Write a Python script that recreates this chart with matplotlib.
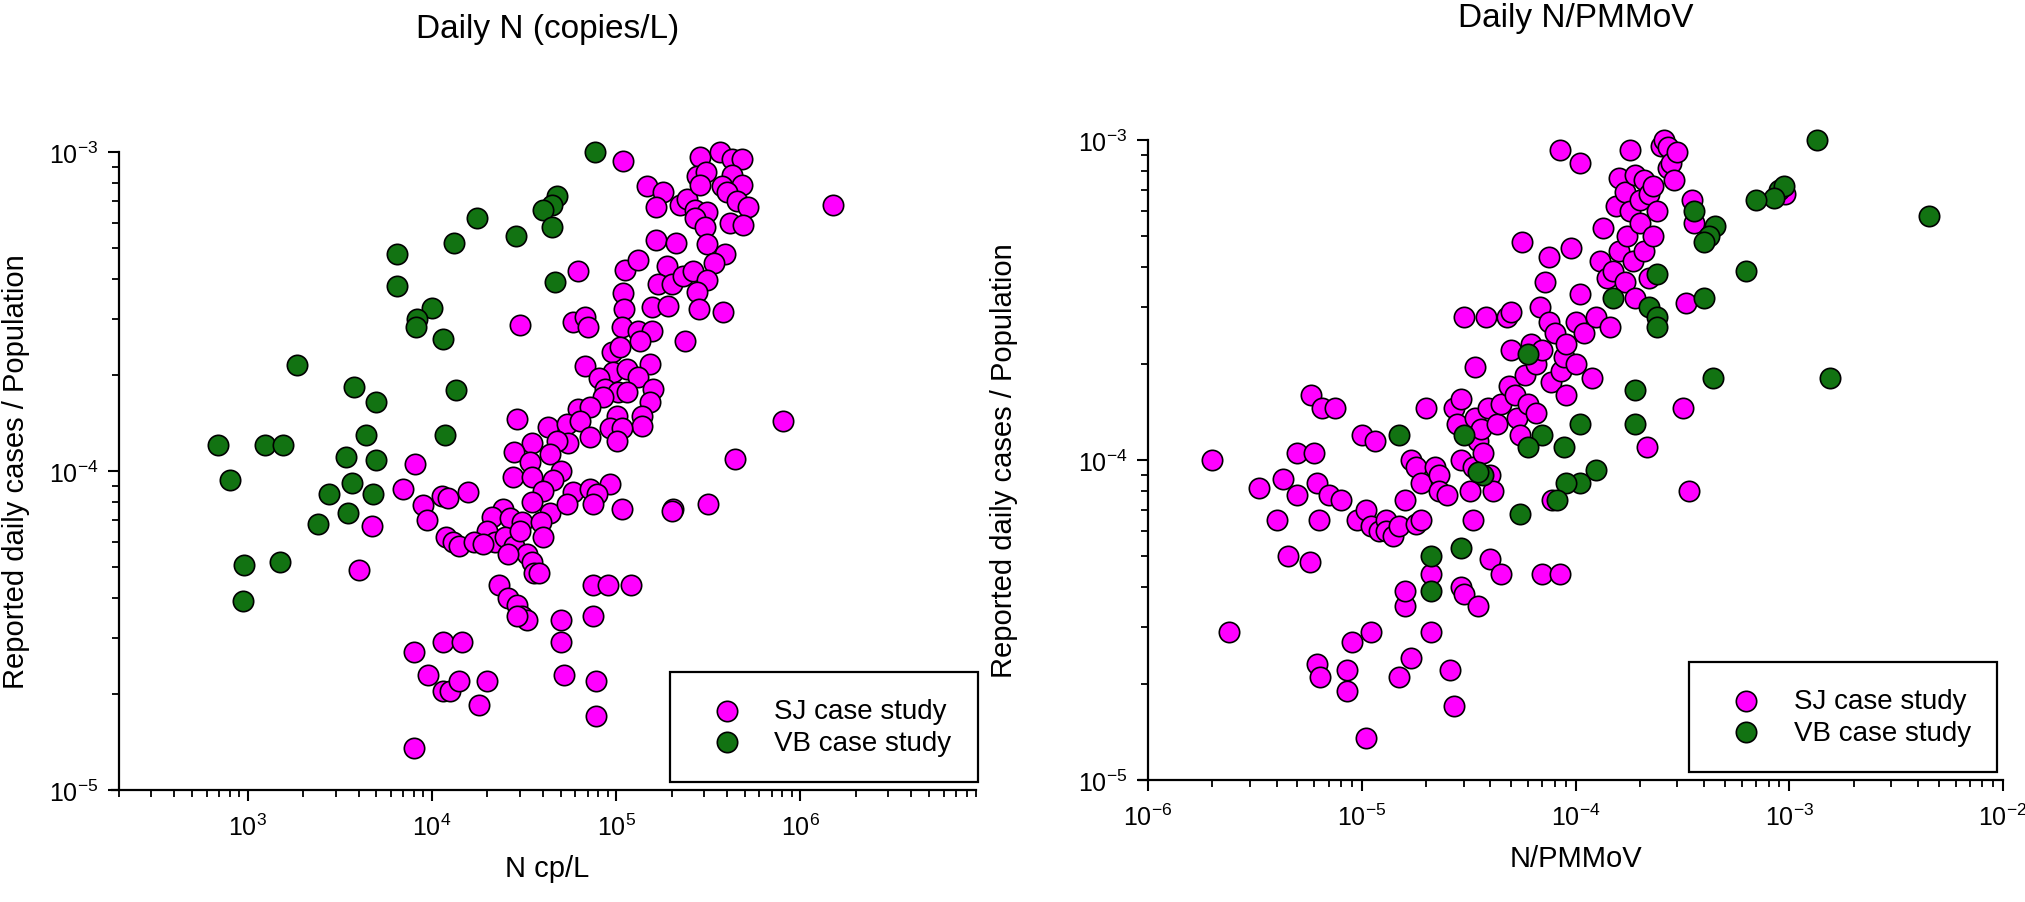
import matplotlib.pyplot as plt
from matplotlib.ticker import LogLocator, NullFormatter

plt.rcParams['font.family'] = ['Liberation Sans', 'DejaVu Sans']
plt.rcParams['mathtext.fontset'] = 'custom'
plt.rcParams['mathtext.rm'] = 'Liberation Sans'
plt.rcParams['mathtext.default'] = 'regular'
plt.rcParams['axes.unicode_minus'] = False

# ---- left panel: N copies/L vs cases / population ----
sj_n = [1.09e5, 1.47e5, 1.80e5, 1.65e5, 2.23e5, 2.43e5, 6.2e4, 1.12e5, 1.32e5, 1.65e5,
        2.12e5, 1.89e5, 1.69e5, 2.01e5, 2.31e5, 1.09e5, 1.57e5, 1.92e5, 1.10e5, 3.0e4,
        5.8e4, 6.8e4, 7.05e4, 1.08e5, 1.32e5, 1.57e5, 1.35e5, 2.37e5, 9.5e4, 1.05e5,
        6.8e4, 1.53e5, 9.6e4, 1.15e5, 8.1e4, 1.32e5, 8.7e4, 1.03e5, 1.15e5, 1.59e5,
        8.5e4, 1.53e5, 6.2e4, 7.2e4, 1.01e5, 1.38e5, 1.38e5, 9.3e4, 1.08e5, 1.01e5,
        2.9e4, 4.27e4, 5.4e4, 6.4e4, 7.2e4, 3.5e4, 5.5e4, 4.8e4, 2.8e4, 4.4e4,
        3.4e4, 5.0e4, 2.75e4, 3.5e4, 4.55e4, 4.0e4, 5.8e4, 7.2e4, 9.3e4, 7.9e4,
        7.5e4, 3.5e4, 4.4e4, 5.4e4, 1.08e5, 2.04e5, 2.43e4, 2.12e4, 2.65e4, 3.1e4,
        3.9e4, 8.1e3, 6.95e3, 8.9e3, 1.13e4, 1.22e4, 1.57e4, 9.4e3, 4.7e3, 2.86e5,
        3.67e5, 4.27e5, 4.84e5, 2.75e5, 3.08e5, 4.27e5, 2.86e5, 3.77e5, 4.84e5, 4.0e5,
        2.69e5, 3.12e5, 2.69e5, 4.55e5, 5.2e5, 4.17e5, 4.9e5, 3.05e5, 1.51e6, 3.12e5,
        3.9e5, 3.4e5, 2.62e5, 3.12e5, 2.75e5, 2.82e5, 3.82e5, 8.1e5, 4.44e5, 3.16e5,
        4.0e3, 8.0e3, 9.5e3, 1.15e4, 1.25e4, 1.15e4, 1.45e4, 1.4e4, 8.0e3, 1.8e4,
        2.0e4, 2.3e4, 2.6e4, 2.9e4, 3.1e4, 3.3e4, 2.9e4, 7.5e4, 9.0e4, 1.2e5,
        7.5e4, 5.0e4, 5.2e4, 7.8e4, 7.8e4, 5.0e4, 2.0e5, 2.0e4, 2.2e4, 2.5e4,
        2.8e4, 3.0e4, 3.3e4, 3.5e4, 3.6e4, 1.2e4, 1.3e4, 1.4e4, 1.7e4, 1.9e4,
        2.6e4, 4.0e4, 3.8e4]
sj_cases = [9.4e-4, 7.8e-4, 7.5e-4, 6.7e-4, 6.8e-4, 7.1e-4, 4.24e-4, 4.27e-4, 4.6e-4, 5.3e-4,
            5.2e-4, 4.4e-4, 3.86e-4, 3.86e-4, 4.08e-4, 3.61e-4, 3.27e-4, 3.29e-4, 3.22e-4, 2.87e-4,
            2.93e-4, 3.04e-4, 2.83e-4, 2.83e-4, 2.75e-4, 2.75e-4, 2.56e-4, 2.56e-4, 2.36e-4, 2.45e-4,
            2.13e-4, 2.16e-4, 2.04e-4, 2.09e-4, 1.96e-4, 1.97e-4, 1.81e-4, 1.77e-4, 1.77e-4, 1.81e-4,
            1.71e-4, 1.64e-4, 1.57e-4, 1.59e-4, 1.49e-4, 1.49e-4, 1.38e-4, 1.36e-4, 1.36e-4, 1.24e-4,
            1.46e-4, 1.37e-4, 1.40e-4, 1.43e-4, 1.28e-4, 1.22e-4, 1.22e-4, 1.24e-4, 1.15e-4, 1.13e-4,
            1.07e-4, 1.0e-4, 9.6e-5, 9.6e-5, 9.4e-5, 8.65e-5, 8.6e-5, 8.8e-5, 9.1e-5, 8.5e-5,
            7.9e-5, 8.0e-5, 7.4e-5, 7.9e-5, 7.6e-5, 7.6e-5, 7.6e-5, 7.2e-5, 7.1e-5, 6.9e-5,
            6.9e-5, 1.05e-4, 8.8e-5, 7.8e-5, 8.35e-5, 8.2e-5, 8.6e-5, 7.0e-5, 6.7e-5, 9.65e-4,
            1.0e-3, 9.5e-4, 9.5e-4, 8.4e-4, 8.65e-4, 8.5e-4, 7.9e-4, 7.8e-4, 7.9e-4, 7.5e-4,
            6.6e-4, 6.5e-4, 6.2e-4, 7.0e-4, 6.7e-4, 6.0e-4, 5.9e-4, 5.8e-4, 6.8e-4, 5.15e-4,
            4.8e-4, 4.5e-4, 4.24e-4, 3.97e-4, 3.64e-4, 3.22e-4, 3.15e-4, 1.43e-4, 1.09e-4, 7.9e-5,
            4.9e-5, 2.7e-5, 2.3e-5, 2.05e-5, 2.05e-5, 2.9e-5, 2.9e-5, 2.2e-5, 1.35e-5, 1.85e-5,
            2.2e-5, 4.4e-5, 4.0e-5, 3.8e-5, 3.5e-5, 3.4e-5, 3.5e-5, 4.4e-5, 4.4e-5, 4.4e-5,
            3.5e-5, 2.9e-5, 2.3e-5, 2.2e-5, 1.7e-5, 3.4e-5, 7.5e-5, 6.5e-5, 6.0e-5, 6.2e-5,
            5.8e-5, 6.5e-5, 5.5e-5, 5.2e-5, 4.8e-5, 6.2e-5, 6.0e-5, 5.8e-5, 6.0e-5, 5.9e-5,
            5.5e-5, 6.2e-5, 4.8e-5]

vb_n = [7.7e4, 4.8e4, 4.5e4, 4.0e4, 1.76e4, 2.86e4, 4.5e4, 1.32e4, 6.5e3, 4.66e4,
        6.5e3, 1.0e4, 8.3e3, 8.2e3, 1.15e4, 1.85e3, 3.77e3, 1.35e4, 5.0e3, 4.4e3,
        1.18e4, 6.9e2, 1.24e3, 1.55e3, 3.4e3, 5.0e3, 8.0e2, 3.7e3, 2.76e3, 4.8e3,
        3.5e3, 2.4e3, 9.6e2, 9.4e2, 1.5e3]
vb_cases = [1.0e-3, 7.3e-4, 6.8e-4, 6.6e-4, 6.2e-4, 5.45e-4, 5.8e-4, 5.2e-4, 4.8e-4, 3.9e-4,
            3.8e-4, 3.24e-4, 3.0e-4, 2.83e-4, 2.6e-4, 2.15e-4, 1.83e-4, 1.8e-4, 1.64e-4, 1.3e-4,
            1.3e-4, 1.21e-4, 1.21e-4, 1.21e-4, 1.11e-4, 1.08e-4, 9.4e-5, 9.2e-5, 8.5e-5, 8.5e-5,
            7.4e-5, 6.8e-5, 5.07e-5, 3.9e-5, 5.2e-5]

# ---- right panel: N/PMMoV vs cases / population ----
sj_ratio = [2.0e-6, 2.4e-6, 3.3e-6, 4.0e-6, 4.3e-6, 4.5e-6, 5.0e-6, 5.0e-6, 5.7e-6, 5.8e-6,
            6.0e-6, 6.2e-6, 6.3e-6, 6.5e-6, 6.2e-6, 6.4e-6, 7.0e-6, 7.5e-6, 8.0e-6, 8.5e-6,
            8.5e-6, 9.0e-6, 9.5e-6, 1.0e-5, 1.05e-5, 1.05e-5, 1.1e-5, 1.1e-5, 1.15e-5, 1.2e-5,
            1.3e-5, 1.3e-5, 1.4e-5, 1.5e-5, 1.5e-5, 1.6e-5, 1.6e-5, 1.7e-5, 1.6e-5, 1.7e-5,
            1.8e-5, 1.9e-5, 1.8e-5, 1.9e-5, 2.0e-5, 2.1e-5, 2.1e-5, 2.2e-5, 2.3e-5, 2.3e-5,
            2.5e-5, 2.6e-5, 2.7e-5, 2.7e-5, 2.8e-5, 2.9e-5, 2.9e-5, 2.9e-5, 3.0e-5, 3.0e-5,
            3.2e-5, 3.3e-5, 3.3e-5, 3.4e-5, 3.4e-5, 3.5e-5, 3.5e-5, 3.6e-5, 3.7e-5, 3.8e-5,
            3.9e-5, 4.0e-5, 4.0e-5, 4.1e-5, 4.3e-5, 4.5e-5, 4.5e-5, 4.8e-5, 4.9e-5, 5.0e-5,
            5.0e-5, 5.2e-5, 5.3e-5, 5.5e-5, 5.6e-5, 5.8e-5, 6.0e-5, 6.2e-5, 6.5e-5, 6.5e-5,
            6.8e-5, 7.0e-5, 7.0e-5, 7.2e-5, 7.5e-5, 7.5e-5, 7.7e-5, 7.8e-5, 8.0e-5, 8.5e-5,
            8.5e-5, 8.6e-5, 8.8e-5, 9.0e-5, 9.0e-5, 9.5e-5, 1.0e-4, 1.0e-4, 1.05e-4, 1.05e-4,
            1.1e-4, 1.2e-4, 1.25e-4, 1.3e-4, 1.35e-4, 1.4e-4, 1.45e-4, 1.5e-4, 1.55e-4, 1.6e-4,
            1.6e-4, 1.7e-4, 1.7e-4, 1.75e-4, 1.8e-4, 1.8e-4, 1.85e-4, 1.9e-4, 1.9e-4, 2.0e-4,
            2.0e-4, 2.1e-4, 2.1e-4, 2.15e-4, 2.2e-4, 2.2e-4, 2.3e-4, 2.3e-4, 2.4e-4, 2.5e-4,
            2.6e-4, 2.7e-4, 2.7e-4, 2.8e-4, 2.9e-4, 3.0e-4, 3.2e-4, 3.3e-4, 3.4e-4, 3.5e-4,
            3.6e-4, 9.6e-4]
sj_cases_r = [1.0e-4, 2.9e-5, 8.2e-5, 6.5e-5, 8.7e-5, 5.0e-5, 1.05e-4, 7.8e-5, 4.8e-5, 1.6e-4,
              1.05e-4, 8.5e-5, 6.5e-5, 1.45e-4, 2.3e-5, 2.1e-5, 7.8e-5, 1.45e-4, 7.5e-5, 2.2e-5,
              1.9e-5, 2.7e-5, 6.5e-5, 1.2e-4, 7.0e-5, 1.35e-5, 2.9e-5, 6.2e-5, 1.15e-4, 6.0e-5,
              6.5e-5, 6.0e-5, 5.8e-5, 2.1e-5, 6.2e-5, 3.5e-5, 3.9e-5, 2.4e-5, 7.5e-5, 1.0e-4,
              9.5e-5, 8.5e-5, 6.3e-5, 6.5e-5, 1.45e-4, 4.4e-5, 2.9e-5, 9.5e-5, 9.0e-5, 8.0e-5,
              7.8e-5, 2.2e-5, 1.7e-5, 1.45e-4, 1.3e-4, 1.55e-4, 1.0e-4, 4.0e-5, 3.8e-5, 2.8e-4,
              8.0e-5, 9.5e-5, 6.5e-5, 1.35e-4, 1.95e-4, 1.15e-4, 3.5e-5, 1.25e-4, 1.05e-4, 2.8e-4,
              1.45e-4, 4.9e-5, 9.0e-5, 8.0e-5, 1.3e-4, 1.5e-4, 4.4e-5, 2.8e-4, 1.7e-4, 2.9e-4,
              2.2e-4, 1.6e-4, 1.35e-4, 1.2e-4, 4.8e-4, 1.85e-4, 1.5e-4, 2.3e-4, 2.0e-4, 1.4e-4,
              3.0e-4, 4.4e-5, 2.2e-4, 3.6e-4, 2.7e-4, 4.3e-4, 1.75e-4, 7.5e-5, 2.5e-4, 9.3e-4,
              4.4e-5, 1.9e-4, 2.1e-4, 2.3e-4, 1.6e-4, 4.6e-4, 2.0e-4, 2.7e-4, 3.3e-4, 8.5e-4,
              2.5e-4, 1.8e-4, 2.8e-4, 4.2e-4, 5.3e-4, 3.7e-4, 2.6e-4, 3.9e-4, 6.2e-4, 4.5e-4,
              7.6e-4, 6.9e-4, 3.6e-4, 5.0e-4, 6.0e-4, 9.3e-4, 4.2e-4, 7.8e-4, 3.2e-4, 6.5e-4,
              5.5e-4, 7.5e-4, 4.5e-4, 1.1e-4, 6.8e-4, 3.7e-4, 7.2e-4, 5.0e-4, 6.0e-4, 9.6e-4,
              1.0e-3, 8.2e-4, 9.5e-4, 8.5e-4, 7.5e-4, 9.2e-4, 1.45e-4, 3.1e-4, 8.0e-5, 6.5e-4,
              5.5e-4, 6.8e-4]

vb_ratio = [1.35e-3, 9.0e-4, 9.5e-4, 8.5e-4, 7.0e-4, 4.5e-4, 4.2e-4, 4.0e-4, 3.6e-4, 2.4e-4,
            2.2e-4, 2.4e-4, 2.4e-4, 1.5e-4, 4.0e-4, 6.3e-4, 4.5e-3, 1.55e-3, 4.4e-4, 1.9e-4,
            1.9e-4, 1.05e-4, 6.0e-5, 7.0e-5, 6.0e-5, 8.8e-5, 1.25e-4, 1.05e-4, 9.0e-5, 8.2e-5,
            5.5e-5, 3.7e-5, 3.5e-5, 3.0e-5, 1.5e-5, 2.1e-5, 2.1e-5, 2.9e-5]
vb_cases_r = [1.0e-3, 7.0e-4, 7.2e-4, 6.6e-4, 6.5e-4, 5.4e-4, 5.0e-4, 4.8e-4, 6.0e-4, 3.8e-4,
              3.0e-4, 2.8e-4, 2.6e-4, 3.2e-4, 3.2e-4, 3.9e-4, 5.8e-4, 1.8e-4, 1.8e-4, 1.65e-4,
              1.3e-4, 1.3e-4, 2.15e-4, 1.2e-4, 1.1e-4, 1.1e-4, 9.3e-5, 8.5e-5, 8.5e-5, 7.5e-5,
              6.8e-5, 9.0e-5, 9.2e-5, 1.2e-4, 1.2e-4, 5.0e-5, 3.9e-5, 5.3e-5]

SJ_COLOR = '#ff00ff'
VB_COLOR = '#127312'

fig = plt.figure(figsize=(20.25, 9.03), dpi=100)
ax1 = fig.add_axes([119 / 2025, 1 - 791 / 903, 857 / 2025, 638 / 903])
ax2 = fig.add_axes([1148 / 2025, 1 - 781 / 903, 855 / 2025, 640 / 903])


def style_axes(ax, xlim, stub):
    ax.set_xscale('log')
    ax.set_yscale('log')
    ax.set_xlim(*xlim)
    ax.set_ylim(1e-5, 1e-3)
    for s in ['top', 'right']:
        ax.spines[s].set_visible(False)
    for s in ['left', 'bottom']:
        ax.spines[s].set_linewidth(1.6)
    # x axis line sticks out a little to the left of the y axis
    ax.spines['bottom'].set_bounds(xlim[0] / stub, xlim[1])
    ax.xaxis.set_minor_locator(LogLocator(base=10, subs=range(2, 10), numticks=100))
    ax.yaxis.set_minor_locator(LogLocator(base=10, subs=range(2, 10), numticks=100))
    ax.xaxis.set_minor_formatter(NullFormatter())
    ax.yaxis.set_minor_formatter(NullFormatter())
    ax.tick_params(which='major', length=8, width=1.5, labelsize=18, direction='out')
    ax.tick_params(which='minor', length=5, width=1.3, direction='out')
    ax.tick_params(axis='x', pad=9)
    ax.tick_params(axis='y', pad=7)


def draw(ax, sx, sy, vx, vy):
    ax.scatter(sx, sy, s=215, c=SJ_COLOR, edgecolors='black', linewidths=1.2,
               label='SJ case study', clip_on=False, zorder=3)
    ax.scatter(vx, vy, s=215, c=VB_COLOR, edgecolors='black', linewidths=1.2,
               label='VB case study', clip_on=False, zorder=3)
    leg = ax.legend(loc='lower right', fontsize=20, frameon=True, fancybox=False,
                    edgecolor='black', framealpha=1, borderpad=0.95, handlelength=2.2,
                    handletextpad=0.6, labelspacing=0.2, scatterpoints=1,
                    borderaxespad=0)
    leg.get_frame().set_linewidth(1.6)
    return leg


style_axes(ax1, (2e2, 9e6), 1.09)
leg1 = draw(ax1, sj_n, sj_cases, vb_n, vb_cases)
leg1.set_bbox_to_anchor((1.002, 0.0125), transform=ax1.transAxes)
ax1.set_title('Daily N (copies/L)', fontsize=24, pad=83)
ax1.set_xlabel('N cp/L', fontsize=21)
ax1.set_ylabel('Reported daily cases / Population', fontsize=21)
ax1.xaxis.set_label_coords(0.5, -0.10)
ax1.yaxis.set_label_coords(-0.104, 0.5)

style_axes(ax2, (1e-6, 1e-2), 1.10)
leg2 = draw(ax2, sj_ratio, sj_cases_r, vb_ratio, vb_cases_r)
leg2.set_bbox_to_anchor((0.993, 0.0125), transform=ax2.transAxes)
ax2.set_title('Daily N/PMMoV', fontsize=24, pad=82)
ax2.set_xlabel('N/PMMoV', fontsize=21)
ax2.set_ylabel('Reported daily cases / Population', fontsize=21)
ax2.xaxis.set_label_coords(0.5, -0.10)
ax2.yaxis.set_label_coords(-0.152, 0.5)

fig.savefig('out.png', dpi=100)
